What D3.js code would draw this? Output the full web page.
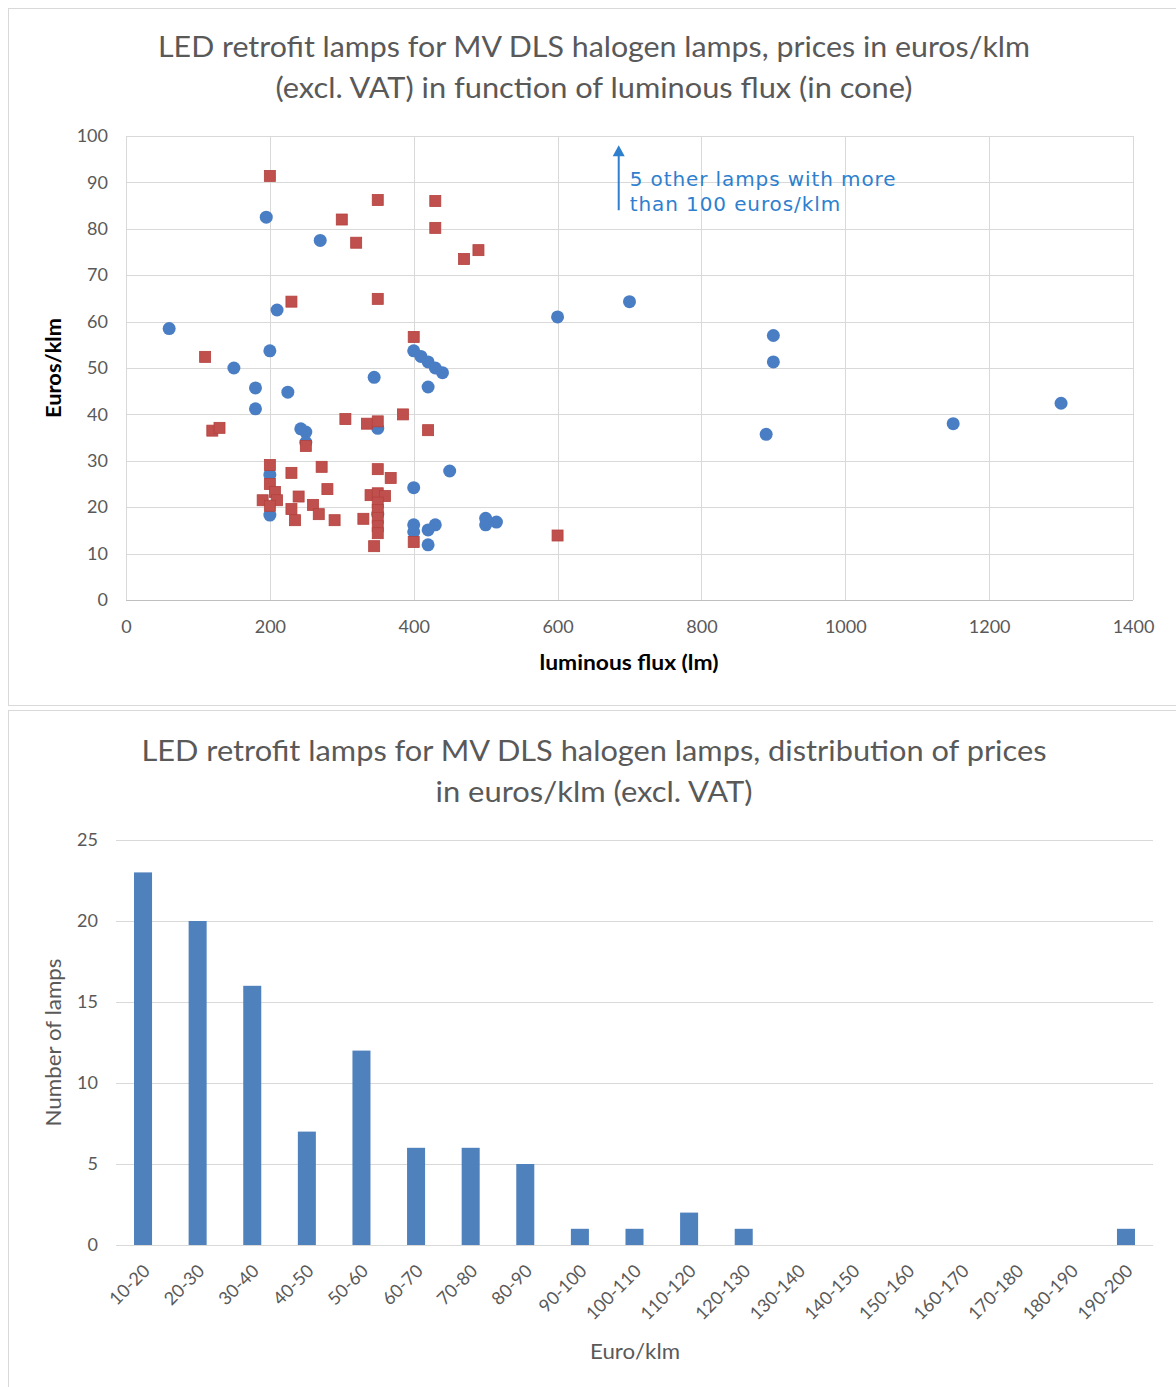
<!DOCTYPE html>
<html>
<head>
<meta charset="utf-8">
<script src="https://cdn.jsdelivr.net/npm/d3@7"></script>
<style>
  body { margin: 0; background: #fff; }
  svg { display: block; }
  .tick text { fill: #595959; }
</style>
</head>
<body>
<svg id="chart" width="1176" height="1387"></svg>
<script>
// scatter: [luminous flux (lm), euros/klm]
var blueLamps = [
  [60, 58.5], [195, 82.5], [270, 77.5], [210, 62.5], [200, 53.7], [150, 50],
  [180, 45.7], [225, 44.8], [180, 41.2], [243, 36.9], [250, 36.2], [250, 34],
  [200, 27], [200, 18.3], [345, 48], [350, 37], [350, 18.5],
  [400, 53.7], [410, 52.5], [420, 51.3], [430, 50], [440, 49], [420, 45.9],
  [450, 27.8], [400, 24.2], [400, 16.2], [400, 14.7], [420, 15.1], [430, 16.2],
  [420, 11.9], [500, 17.6], [500, 16.2], [515, 16.8], [600, 61], [700, 64.3],
  [900, 57], [900, 51.3], [890, 35.7], [1150, 38], [1300, 42.4]
];
var redLamps = [
  [200, 91.4], [300, 82], [350, 86.2], [430, 86], [320, 77], [430, 80.2],
  [470, 73.5], [490, 75.4], [230, 64.3], [350, 64.9], [400, 56.7], [110, 52.4],
  [120, 36.5], [130, 37.1], [305, 39], [335, 38], [350, 38.5], [385, 40],
  [420, 36.6], [250, 33.2], [350, 28.2], [368, 26.3], [272, 28.7], [280, 23.9],
  [240, 22.3], [260, 20.5], [268, 18.5], [235, 17.2], [290, 17.2], [330, 17.5],
  [340, 22.6], [350, 23], [360, 22.4], [350, 21], [350, 19.4], [350, 17.7],
  [350, 15.9], [350, 14.4], [345, 11.6], [400, 12.5], [600, 13.9],
  [200, 29.1], [200, 25], [207, 23.3], [190, 21.5], [210, 21.5], [200, 20.3],
  [230, 27.4], [230, 19.6]
];
var fluxTicks = [0, 200, 400, 600, 800, 1000, 1200, 1400];
var euroTicks = [0, 10, 20, 30, 40, 50, 60, 70, 80, 90, 100];

// note about the lamps above the axis range
var noteFlux = 685, noteTop = 98, noteBottom = 84;
var noteLines = ["5 other lamps with more", "than 100 euros/klm"];

// histogram
var priceBins = ["10-20", "20-30", "30-40", "40-50", "50-60", "60-70", "70-80", "80-90",
  "90-100", "100-110", "110-120", "120-130", "130-140", "140-150", "150-160",
  "160-170", "170-180", "180-190", "190-200"];
var lampCounts = [23, 20, 16, 7, 12, 6, 6, 5, 1, 1, 2, 1, 0, 0, 0, 0, 0, 0, 1];
var countTicks = [0, 5, 10, 15, 20, 25];

var svg = d3.select("#chart");
var font = "Lato, 'Open Sans', sans-serif";
var gridColor = "#d9d9d9";

function title(txt, cx, cy, len) {
  svg.append("text").attr("x", cx).attr("y", cy).attr("text-anchor", "middle")
    .attr("textLength", len).attr("lengthAdjust", "spacingAndGlyphs")
    .style("font", "29px " + font).attr("fill", "#595959")
    .text(txt);
}

// panel frames
svg.append("rect").attr("x", 8.5).attr("y", 8.5).attr("width", 1180).attr("height", 697)
  .attr("fill", "none").attr("stroke", gridColor);
svg.append("rect").attr("x", 8.5).attr("y", 710.5).attr("width", 1180).attr("height", 690)
  .attr("fill", "none").attr("stroke", gridColor);

// ---------- scatter ----------
var x = d3.scaleLinear().domain([0, 1400]).range([126, 1133]);
var y = d3.scaleLinear().domain([0, 100]).range([600, 136]);

title("LED retrofit lamps for MV DLS halogen lamps, prices in euros/klm", 594, 57, 872);
title("(excl. VAT) in function of luminous flux (in cone)", 594, 98, 637);

svg.append("g").selectAll("line").data(euroTicks).enter().append("line")
  .attr("x1", x(0)).attr("x2", x(1400))
  .attr("y1", function(d) { return Math.round(y(d)) + 0.5; })
  .attr("y2", function(d) { return Math.round(y(d)) + 0.5; })
  .attr("stroke", gridColor);
svg.append("g").selectAll("line").data(fluxTicks).enter().append("line")
  .attr("y1", y(0)).attr("y2", y(100))
  .attr("x1", function(d) { return Math.round(x(d)) + 0.5; })
  .attr("x2", function(d) { return Math.round(x(d)) + 0.5; })
  .attr("stroke", gridColor);

var xAxis = svg.append("g").attr("transform", "translate(0," + (y(0) + 0.5) + ")")
  .call(d3.axisBottom(x).tickValues(fluxTicks).tickFormat(d3.format("d")).tickSize(0).tickPadding(20));
var yAxis = svg.append("g").attr("transform", "translate(" + (x(0) - 18) + ",0)")
  .call(d3.axisLeft(y).tickValues(euroTicks).tickSize(0).tickPadding(0));
[xAxis, yAxis].forEach(function(g) {
  g.select(".domain").remove();
  g.selectAll("text").style("font", "18px " + font);
});
svg.append("line").attr("x1", x(0)).attr("x2", x(1400)).attr("y1", y(0) + 0.5).attr("y2", y(0) + 0.5)
  .attr("stroke", "#bfbfbf");

svg.append("text").attr("transform", "translate(61," + y(50) + ") rotate(-90)")
  .attr("text-anchor", "middle").style("font", "bold 21px " + font).attr("fill", "#000")
  .attr("textLength", 100).attr("lengthAdjust", "spacingAndGlyphs")
  .text("Euros/klm");
svg.append("text").attr("x", 629).attr("y", 670).attr("text-anchor", "middle")
  .style("font", "bold 21px " + font).attr("fill", "#000")
  .attr("textLength", 179).attr("lengthAdjust", "spacingAndGlyphs")
  .text("luminous flux (lm)");

svg.append("g").selectAll("circle").data(blueLamps).enter().append("circle")
  .attr("cx", function(d) { return x(d[0]); })
  .attr("cy", function(d) { return y(d[1]); })
  .attr("r", 6.5).attr("fill", "#4a7ec4");
svg.append("g").selectAll("rect").data(redLamps).enter().append("rect")
  .attr("x", function(d) { return x(d[0]) - 5.5; })
  .attr("y", function(d) { return y(d[1]) - 5.5; })
  .attr("width", 11).attr("height", 11)
  .attr("fill", "#c0504d").attr("stroke", "#b3413e").attr("stroke-width", 0.8);

// annotation arrow + text
var noteColor = "#2e7fce";
svg.append("line").attr("x1", x(noteFlux)).attr("x2", x(noteFlux))
  .attr("y1", y(noteBottom)).attr("y2", y(noteTop) + 8)
  .attr("stroke", noteColor).attr("stroke-width", 2);
svg.append("path")
  .attr("d", d3.line()([[x(noteFlux) - 6, y(noteTop) + 11], [x(noteFlux), y(noteTop)], [x(noteFlux) + 6, y(noteTop) + 11]]) + "Z")
  .attr("fill", noteColor);
svg.append("g").selectAll("text").data(noteLines).enter().append("text")
  .attr("x", x(noteFlux) + 11)
  .attr("y", function(d, i) { return y(noteTop) + 41 + i * 25; })
  .style("font", "20px 'DejaVu Sans', Verdana, sans-serif").style("letter-spacing", "0.9px")
  .attr("fill", noteColor)
  .text(function(d) { return d; });

// ---------- histogram ----------
var bx = d3.scaleBand().domain(priceBins).range([116, 1153]).paddingInner(0.67).paddingOuter(0.33);
var by = d3.scaleLinear().domain([0, 25]).range([1245, 840]);

title("LED retrofit lamps for MV DLS halogen lamps, distribution of prices", 594, 761, 905);
title("in euros/klm (excl. VAT)", 594, 802, 317);

svg.append("g").selectAll("line").data(countTicks).enter().append("line")
  .attr("x1", 116).attr("x2", 1153)
  .attr("y1", function(d) { return Math.round(by(d)) + 0.5; })
  .attr("y2", function(d) { return Math.round(by(d)) + 0.5; })
  .attr("stroke", gridColor);

svg.append("g").selectAll("rect").data(lampCounts).enter().append("rect")
  .attr("x", function(d, i) { return bx(priceBins[i]); })
  .attr("y", function(d) { return by(d); })
  .attr("width", bx.bandwidth())
  .attr("height", function(d) { return by(0) - by(d); })
  .attr("fill", "#4f81bd");

var cyAxis = svg.append("g").attr("transform", "translate(98,0)")
  .call(d3.axisLeft(by).tickValues(countTicks).tickSize(0).tickPadding(0));
cyAxis.select(".domain").remove();
cyAxis.selectAll("text").style("font", "18px " + font);

var cxAxis = svg.append("g").attr("transform", "translate(0," + by(0) + ")")
  .call(d3.axisBottom(bx).tickSize(0).tickPadding(0));
cxAxis.select(".domain").remove();
cxAxis.selectAll("text")
  .style("font", "18px " + font)
  .attr("text-anchor", "end")
  .attr("dy", 0)
  .attr("transform", "translate(8,27) rotate(-45)");

svg.append("text").attr("transform", "translate(61," + by(12.5) + ") rotate(-90)")
  .attr("text-anchor", "middle").style("font", "21px " + font).attr("fill", "#595959")
  .attr("textLength", 168).attr("lengthAdjust", "spacingAndGlyphs")
  .text("Number of lamps");
svg.append("text").attr("x", 635).attr("y", 1359).attr("text-anchor", "middle")
  .style("font", "21px " + font).attr("fill", "#595959")
  .attr("textLength", 90).attr("lengthAdjust", "spacingAndGlyphs")
  .text("Euro/klm");
</script>
</body>
</html>
